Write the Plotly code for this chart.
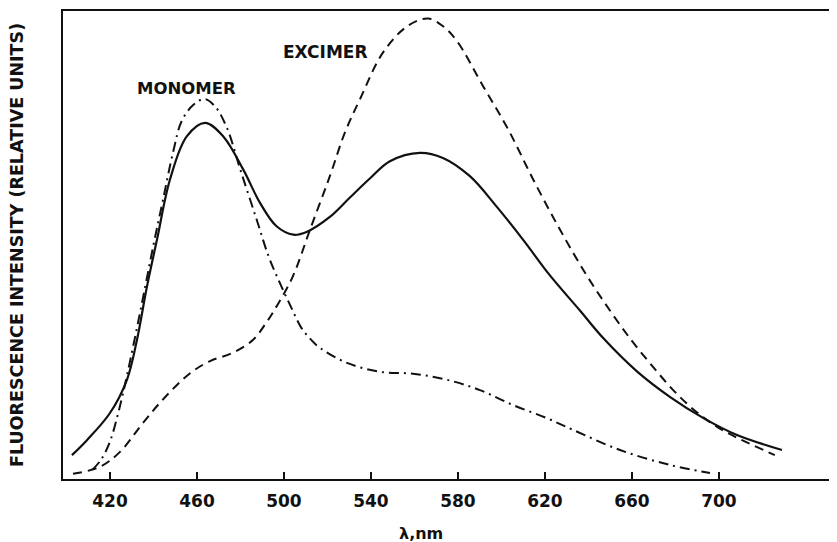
import plotly.graph_objects as go

# Total fluorescence (solid)
total_wl = [402.5, 409.4, 420, 427.8, 432.4, 437, 441.6, 447.6, 455.3, 463.7, 472.1, 481.3,
            489.0, 496.6, 504.3, 510.4, 521.1, 530, 539.5, 548.7, 562.5, 573.1, 585.5,
            597.8, 610.0, 622.3, 636.1, 647.0, 662.3, 677.6, 692.9, 708.3, 729.0]
total_int = [5.1, 8.3, 14.1, 21.2, 29.7, 41.1, 51.1, 64.0, 73.2, 76.1, 73.2, 66.1,
             59.0, 54.0, 52.2, 52.8, 56.0, 60.0, 64.2, 67.9, 69.7, 68.6, 64.7,
             58.2, 51.1, 43.5, 36.0, 30.0, 23.0, 17.5, 13.0, 9.4, 6.2]

# Excimer component (dashed)
exc_wl = [403.0, 415.4, 424.6, 435.2, 443, 450.8, 458, 466, 476.6, 485.7, 492, 497,
          504.1, 512, 521.1, 528, 534.9, 545.5, 556.6, 566.2, 573, 579.5, 591.5, 603.1,
          614.6, 626.9, 639.2, 649.9, 660, 670, 680, 690, 699, 708, 725.7]
exc_int = [1.1, 2.6, 5.8, 12.0, 16.3, 20.1, 23.0, 25.2, 27.0, 29.7, 33.5, 37.2,
           43.3, 53.3, 64.7, 74.0, 81.1, 91.1, 96.7, 98.4, 96.8, 93.6, 84.0, 74.7,
           64.0, 53.3, 43.5, 36.0, 29.5, 23.8, 18.5, 14.2, 11.2, 8.9, 5.1]

# Monomer component (dash-dot)
mono_wl = [412.0, 416, 420.0, 424, 428, 433.8, 440, 444.4, 449.1, 453.0, 458.5, 463.5,
           468.5, 473.8, 480, 487.4, 493, 498, 503, 508, 512, 516.6, 529.0, 544.1,
           559.3, 574.9, 590.1, 605.3, 620.9, 632.9, 654.5, 677.5, 695.9]
mono_int = [2.0, 4.2, 8.0, 14.5, 22.5, 35.5, 50.0, 59.7, 70.0, 76.5, 80.0, 81.2,
            79.5, 75.0, 66.0, 55.5, 47.5, 42.0, 37.0, 32.3, 30.0, 28.0, 24.8, 22.9,
            22.5, 21.2, 19.0, 15.8, 13.0, 10.5, 6.2, 3.0, 1.3]

x_ticks = [420, 460, 500, 540, 580, 620, 660, 700]

ink = "#111111"
fig = go.Figure()
fig.add_trace(go.Scatter(x=total_wl, y=total_int, mode="lines",
                         line=dict(color=ink, width=2.2, shape="spline", smoothing=1.0)))
fig.add_trace(go.Scatter(x=exc_wl, y=exc_int, mode="lines",
                         line=dict(color=ink, width=2.0, shape="spline", smoothing=1.0,
                                   dash="9px,6px")))
fig.add_trace(go.Scatter(x=mono_wl, y=mono_int, mode="lines",
                         line=dict(color=ink, width=2.0, shape="spline", smoothing=1.0,
                                   dash="10px,5px,2px,5px")))

font_fam = "DejaVu Sans"
# page body has an 8px default margin, so the figure is shifted by 8px
fig.update_layout(
    width=829, height=534,
    margin=dict(l=55, r=0, t=3, b=63),
    paper_bgcolor="white", plot_bgcolor="white",
    showlegend=False,
    font=dict(family=font_fam, color=ink),
    xaxis=dict(range=[398.4, 754.3], tickvals=x_ticks, ticktext=[str(v) for v in x_ticks],
               showgrid=False, zeroline=False, showline=True, linecolor=ink, linewidth=2,
               mirror=True, ticks="inside", ticklen=7, tickwidth=1.5, tickcolor=ink,
               ticklabelstandoff=6, automargin=False,
               tickfont=dict(family=font_fam, size=17, color=ink, weight="bold")),
    yaxis=dict(range=[0, 100], showgrid=False, zeroline=False, showline=True,
               linecolor=ink, linewidth=2, showticklabels=False, ticks="", automargin=False),
    annotations=[
        dict(text="MONOMER", x=455.4, y=83.4, xref="x", yref="y", showarrow=False,
             font=dict(size=16.5, family=font_fam, color=ink, weight="bold")),
        dict(text="EXCIMER", x=519.3, y=91.3, xref="x", yref="y", showarrow=False,
             font=dict(size=17, family=font_fam, color=ink, weight="bold")),
        dict(text="FLUORESCENCE INTENSITY (RELATIVE UNITS)", x=0, y=0.5, xref="paper",
             yref="paper", xanchor="center", yanchor="middle", xshift=-46, textangle=-90,
             showarrow=False, font=dict(size=17.5, family=font_fam, color=ink, weight="bold")),
        dict(text="λ,nm", x=563, y=0, xref="x", yref="paper", xanchor="center",
             yanchor="middle", yshift=-54, showarrow=False,
             font=dict(size=16, family=font_fam, color=ink, weight="bold")),
    ],
)

fig.write_html("out.html")
